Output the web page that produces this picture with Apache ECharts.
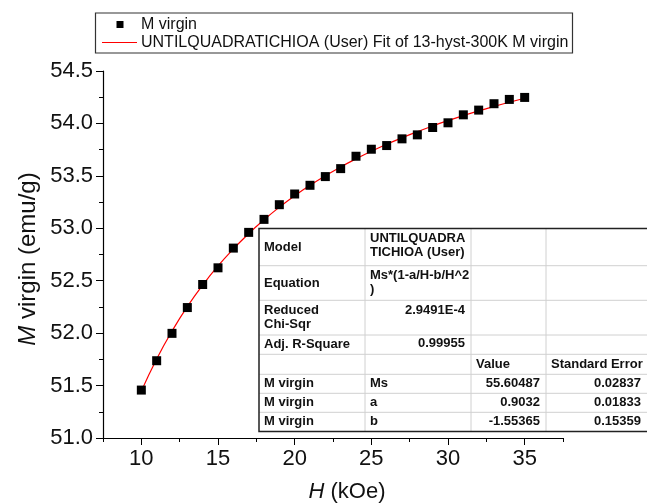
<!DOCTYPE html>
<html>
<head>
<meta charset="utf-8">
<script src="https://cdn.jsdelivr.net/npm/echarts@6/dist/echarts.min.js"></script>
<style>html,body{margin:0;padding:0;background:#fff;}#c{width:647px;height:504px;}</style>
</head>
<body>
<div id="c"></div>
<script>
// ---- data ----
const fieldH = [10,11,12,13,14,15,16,17,18,19,20,21,22,23,24,25,26,27,28,29,30,31,32,33,34,35];
const mVirgin = [51.457,51.737,51.998,52.244,52.464,52.623,52.811,52.961,53.085,53.225,53.327,53.410,53.493,53.569,53.687,53.754,53.789,53.853,53.891,53.961,54.006,54.082,54.127,54.188,54.229,54.248];
const fitH = [10,11,12,13,14,15,16,17,18,19,20,21,22,23,24,25,26,27,28,29,30,31,32,33,34,35];
const fitM = [51.447,51.753,52.019,52.253,52.458,52.641,52.803,52.949,53.081,53.201,53.310,53.409,53.500,53.585,53.662,53.734,53.801,53.863,53.921,53.976,54.027,54.075,54.120,54.162,54.202,54.240];
const xLabelTicks = [10,15,20,25,30,35];
const yTicks = [51.0,51.5,52.0,52.5,53.0,53.5,54.0,54.5];
const legendNames = ['M virgin','UNTILQUADRATICHIOA (User) Fit of 13-hyst-300K M virgin'];
const tableRows = [
  ['Model','UNTILQUADRA\nTICHIOA (User)','',''],
  ['Equation','Ms*(1-a/H-b/H^2\n)','',''],
  ['Reduced\nChi-Sqr','2.9491E-4','',''],
  ['Adj. R-Square','0.99955','',''],
  ['','','Value','Standard Error'],
  ['M virgin','Ms','55.60487','0.02837'],
  ['M virgin','a','0.9032','0.01833'],
  ['M virgin','b','-1.55365','0.15359']
];

const FONT = '"Liberation Sans", Arial, sans-serif';
const chart = echarts.init(document.getElementById('c'), null, {renderer:'canvas'});

// table geometry (layout only)
const colX = [259, 365, 471, 546, 647];
const rowY = [228.5, 265.7, 300.3, 335, 354.3, 374.3, 393.3, 412.3, 431.5];
const tableEls = [];
tableEls.push({type:'rect', shape:{x:colX[0], y:rowY[0], width:colX[4]-colX[0]+2, height:rowY[8]-rowY[0]}, style:{fill:'#fff', stroke:null}, z:100});
for (let i=1;i<rowY.length-1;i++) tableEls.push({type:'line', shape:{x1:colX[0], y1:rowY[i], x2:647, y2:rowY[i]}, style:{stroke:'#d0d0d0', lineWidth:1}, z:101});
for (let j=1;j<4;j++) tableEls.push({type:'line', shape:{x1:colX[j], y1:rowY[0], x2:colX[j], y2:rowY[8]}, style:{stroke:'#d0d0d0', lineWidth:1}, z:101});
tableEls.push({type:'polyline', shape:{points:[[648,rowY[0]],[colX[0],rowY[0]],[colX[0],rowY[8]],[648,rowY[8]]]}, style:{stroke:'#222', lineWidth:1.5, fill:null}, z:102});
tableRows.forEach((row, r) => {
  row.forEach((txt, c) => {
    if (!txt) return;
    const rightAlign = (r===2||r===3) && c===1 || (r>=5 && c>=2);
    const topAlign = (r<=3 && c===1);
    const x = rightAlign ? colX[c+1]-6 : colX[c]+5;
    let y, vAlign;
    if (topAlign) { y = rowY[r]+3; vAlign='top'; }
    else { y = (rowY[r]+rowY[r+1])/2; vAlign='middle'; }
    if (r===3 && c===1) { y = (rowY[r]+rowY[r+1])/2 - 1; vAlign='middle'; }
    tableEls.push({type:'text', x:x, y:y, z:103, style:{text:txt, font:'bold 13px '+FONT, fill:'#111', align: rightAlign?'right':'left', verticalAlign:vAlign, lineHeight:14}});
  });
});

const option = {
  backgroundColor:'#fff',
  animation:false,
  grid:{left:103, right:84, top:71, bottom:66, containLabel:false},
  xAxis:[{
    type:'value', min:7.5, max:37.5, interval:2.5,
    axisLine:{show:true, lineStyle:{color:'#000', width:1.2}},
    axisTick:{show:true, inside:false, length:4, lineStyle:{color:'#000', width:1}},
    axisLabel:{show:true, margin:10, color:'#111', fontSize:22, fontFamily:FONT,
      formatter:v => xLabelTicks.indexOf(v)>=0 ? String(v) : ''},
    splitLine:{show:false}
  },{
    type:'value', min:7.5, max:37.5, interval:5, position:'bottom', gridIndex:0,
    axisLine:{show:false},
    axisTick:{show:true, length:7, customValues:xLabelTicks, lineStyle:{color:'#000', width:1}},
    axisLabel:{show:false},
    splitLine:{show:false}
  }],
  yAxis:{
    type:'value', min:51, max:54.5, interval:0.5,
    axisLine:{show:true, lineStyle:{color:'#000', width:1.2}},
    axisTick:{show:true, length:7, lineStyle:{color:'#000', width:1}},
    minorTick:{show:true, splitNumber:2, length:4, lineStyle:{color:'#000', width:1}},
    axisLabel:{margin:10, color:'#111', fontSize:22, fontFamily:FONT, formatter:v => v.toFixed(1)},
    splitLine:{show:false}
  },
  series:[
    {name:legendNames[1], type:'line', data:fitH.map((h,i)=>[h,fitM[i]]), smooth:true, showSymbol:false, symbol:'none',
     lineStyle:{color:'#ff0000', width:1.2}, z:2},
    {name:legendNames[0], type:'scatter', data:fieldH.map((h,i)=>[h,mVirgin[i]]), symbol:'rect', symbolSize:9,
     itemStyle:{color:'#000', opacity:1}, z:3}
  ],
  graphic:[
    // legend
    {type:'rect', shape:{x:95.5, y:13, width:477, height:40}, style:{fill:'#fff', stroke:'#333', lineWidth:1.2}, z:50},
    {type:'rect', shape:{x:116.5, y:21, width:7, height:7}, style:{fill:'#000'}, z:51},
    {type:'line', shape:{x1:102, y1:42.5, x2:137, y2:42.5}, style:{stroke:'#ff0000', lineWidth:1}, z:51},
    {type:'text', x:141, y:24.5, z:51, style:{text:legendNames[0], font:'16px '+FONT, fill:'#111', verticalAlign:'middle'}},
    {type:'text', x:141, y:43, z:51, style:{text:legendNames[1], font:'16px '+FONT, fill:'#111', verticalAlign:'middle'}},
    // axis titles
    {type:'text', x:347, y:492, z:51, style:{text:'{i|H} (kOe)', font:'22px '+FONT, fill:'#111', align:'center', verticalAlign:'middle',
      rich:{i:{fontStyle:'italic', fontSize:22, fontFamily:FONT, fill:'#111'}}}},
    {type:'text', x:28, y:259, rotation:Math.PI/2, z:51, style:{text:'{i|M} virgin (emu/g)', font:'24px '+FONT, fill:'#111', align:'center', verticalAlign:'middle',
      rich:{i:{fontStyle:'italic', fontSize:24, fontFamily:FONT, fill:'#111'}}}},
    {type:'group', children:tableEls}
  ]
};
chart.setOption(option);
</script>
</body>
</html>
